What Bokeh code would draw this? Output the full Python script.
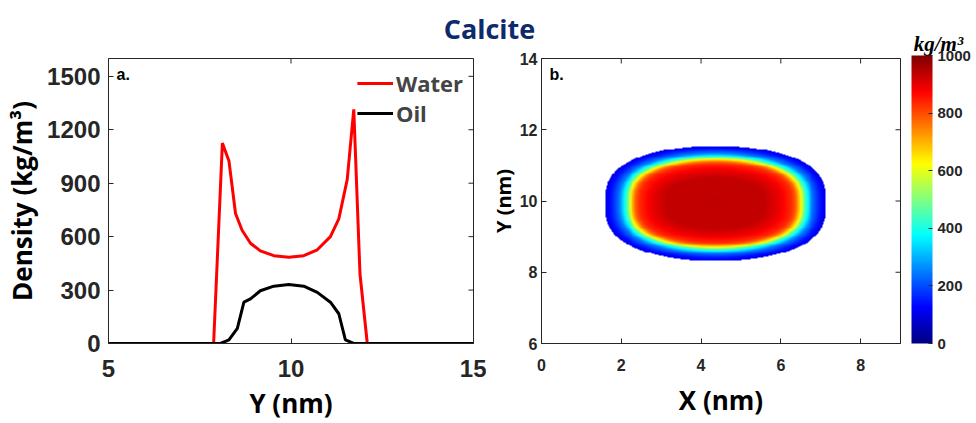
import numpy as np
from bokeh.plotting import figure
from bokeh.models import Range1d, FixedTicker, Label, ColorBar, LinearColorMapper
from bokeh.layouts import column, row
from bokeh.embed import file_html
from bokeh.resources import INLINE

# ---------------- data ----------------
title_text = "Calcite"

# (a) density profiles along Y
water_y = [5.0, 7.88, 8.12, 8.30, 8.48, 8.66, 8.89, 9.16, 9.53, 9.94, 10.35,
           10.72, 11.08, 11.31, 11.54, 11.72, 11.89, 12.09, 15.0]
water_rho = [0, 0, 1125, 1025, 730, 636, 563, 520, 493, 484, 493,
             526, 600, 700, 920, 1315, 390, 0, 0]
oil_y = [5.0, 8.07, 8.30, 8.53, 8.71, 8.89, 9.16, 9.53, 9.94, 10.35, 10.72,
         11.08, 11.31, 11.49, 11.72, 15.0]
oil_rho = [0, 0, 20, 85, 232, 250, 296, 322, 331, 322, 287,
           232, 167, 20, 0, 0]
a_xticks = [5, 10, 15]
a_yticks = [0, 300, 600, 900, 1200, 1500]

# (b) droplet density map: outline
drop_x_left, drop_x_right = 1.58, 7.15
drop_y_bottom, drop_y_top = 8.32, 11.55
# relative radius (0 = centre, 1 = outer edge) -> density (kg/m3)
level_pos = [0.00, 0.45, 0.58, 0.68, 0.72, 0.76, 0.81, 0.87, 0.94, 1.00]
level_rho = [935, 930, 890, 835, 780, 650, 430, 250, 150, 100]
b_xticks = [0, 2, 4, 6, 8]
b_yticks = [6, 8, 10, 12, 14]
cb_ticks = [0, 200, 400, 600, 800, 1000]

# ---------------- styles ----------------
TICK_FONT = "Liberation Sans"
LAB_FONT = "Open Sans"
DARK = "#262626"

# jet palette
anchors = [(0.0, (0, 0, 0.5)), (0.125, (0, 0, 1)), (0.375, (0, 1, 1)),
           (0.625, (1, 1, 0)), (0.875, (1, 0, 0)), (1.0, (0.5, 0, 0))]
pos = [a[0] for a in anchors]
jet = []
for t in np.linspace(0, 1, 256):
    r = np.interp(t, pos, [a[1][0] for a in anchors])
    g = np.interp(t, pos, [a[1][1] for a in anchors])
    b = np.interp(t, pos, [a[1][2] for a in anchors])
    jet.append("#%02x%02x%02x" % (int(round(r * 255)), int(round(g * 255)), int(round(b * 255))))


def style_axes(p, size, xticks, yticks, xr, yr):
    for ax in p.xaxis + p.yaxis:
        ax.major_tick_in = 5
        ax.major_tick_out = 0
        ax.minor_tick_line_color = None
        ax.major_label_text_font = TICK_FONT
        ax.major_label_text_font_style = "bold"
        ax.major_label_text_font_size = size
        ax.major_label_text_color = DARK
        ax.axis_line_color = DARK
        ax.major_tick_line_color = DARK
        ax.axis_label_text_font = LAB_FONT
        ax.axis_label_text_font_style = "bold"
        ax.axis_label_text_color = "black"
    p.xaxis.ticker = FixedTicker(ticks=xticks)
    p.yaxis.ticker = FixedTicker(ticks=yticks)
    # inward ticks on the top and right sides of the box
    p.scatter(x=xticks, y=[yr[1]] * len(xticks), marker="dash", size=10, angle=np.pi / 2,
              line_color=DARK, line_width=1)
    p.scatter(x=[xr[1]] * len(yticks), y=yticks, marker="dash", size=10,
              line_color=DARK, line_width=1)
    p.grid.visible = False
    p.outline_line_color = DARK
    p.border_fill_color = None


# ---------------- title strip ----------------
tp = figure(width=976, height=56, x_range=Range1d(0, 976), y_range=Range1d(0, 56),
            toolbar_location=None, output_backend="svg", min_border=0,
            x_axis_location=None, y_axis_location=None)
tp.grid.visible = False
tp.outline_line_color = None
tp.border_fill_color = None
tp.background_fill_color = None
tp.add_layout(Label(x=489, y=10, text=title_text, text_align="center", text_baseline="bottom",
                    text_font=LAB_FONT, text_font_size="27px", text_font_style="bold",
                    text_color="#0d2a6b"))
tp.add_layout(Label(x=938, y=1, text="kg/m³", text_align="center", text_baseline="bottom",
                    text_font="Liberation Serif", text_font_size="21px",
                    text_font_style="bold italic", text_color="black"))

FIG_H = 375
# ---------------- (a) ----------------
xr1, yr1 = (5, 15), (0, 1600)
p1 = figure(width=486, height=FIG_H, x_range=Range1d(*xr1), y_range=Range1d(*yr1),
            toolbar_location=None, output_backend="svg",
            min_border_left=108, min_border_right=13, min_border_top=10, min_border_bottom=77)
p1.line(water_y, water_rho, color="#ff0000", line_width=3, legend_label="Water")
p1.line(oil_y, oil_rho, color="black", line_width=3, legend_label="Oil")
style_axes(p1, "24px", a_xticks, a_yticks, xr1, yr1)
p1.xaxis.axis_label = "Y (nm)"
p1.yaxis.axis_label = "Density (kg/m³)"
p1.axis.axis_label_text_font_size = "26px"
p1.xaxis.major_label_standoff = 16
p1.xaxis.axis_label_standoff = 5
p1.yaxis.major_label_standoff = 8
p1.yaxis.axis_label_standoff = 4
p1.legend.location = "top_right"
p1.legend.border_line_color = None
p1.legend.background_fill_alpha = 0
p1.legend.glyph_width = 36
p1.legend.glyph_height = 20
p1.legend.label_height = 20
p1.legend.spacing = 0
p1.legend.padding = 6
p1.legend.margin = 10
p1.legend.label_standoff = 3
p1.legend.label_text_font = LAB_FONT
p1.legend.label_text_font_style = "bold"
p1.legend.label_text_font_size = "22px"
p1.add_layout(Label(x=xr1[0], y=yr1[1], x_offset=8, y_offset=-7, text="a.", text_baseline="top",
                    text_font=TICK_FONT, text_font_style="bold", text_font_size="16px",
                    text_color="black"))

# ---------------- (b) ----------------
gx = np.linspace(0, 9, 361)
gy = np.linspace(6, 14, 321)
X, Y = np.meshgrid(gx, gy)
xc = (drop_x_left + drop_x_right) / 2
yc = (drop_y_bottom + drop_y_top) / 2
U = np.abs((X - xc) / ((drop_x_right - drop_x_left) / 2))
V = np.abs((Y - yc) / ((drop_y_top - drop_y_bottom) / 2))
# relative radius of the (scaled) outline through each grid point
lo = np.zeros_like(U)
hi = np.full_like(U, 4.0)
for _ in range(40):
    mid = (lo + hi) / 2
    inside = (U / mid) ** 2 + (V / mid) ** 3 > 1.0
    lo = np.where(inside, mid, lo)
    hi = np.where(inside, hi, mid)
R = (lo + hi) / 2
dens = np.interp(R, level_pos, level_rho)
dens[R > 1.0] = np.nan

mapper = LinearColorMapper(palette=jet, low=0, high=1000, nan_color=(0, 0, 0, 0))
xr2, yr2 = (0, 9), (6, 14)
p2 = figure(width=490, height=FIG_H, x_range=Range1d(*xr2), y_range=Range1d(*yr2),
            toolbar_location=None, output_backend="svg",
            min_border_left=50, min_border_right=76, min_border_top=10, min_border_bottom=77)
p2.image(image=[dens], x=gx[0], y=gy[0], dw=gx[-1] - gx[0], dh=gy[-1] - gy[0],
         color_mapper=mapper)
style_axes(p2, "16px", b_xticks, b_yticks, xr2, yr2)
p2.xaxis.axis_label = "X (nm)"
p2.yaxis.axis_label = "Y (nm)"
p2.xaxis.axis_label_text_font_size = "26px"
p2.yaxis.axis_label_text_font_size = "20px"
p2.xaxis.major_label_standoff = 15
p2.xaxis.axis_label_standoff = 8
p2.yaxis.major_label_standoff = 4
p2.yaxis.axis_label_standoff = 0
p2.add_layout(Label(x=xr2[0], y=yr2[1], x_offset=8, y_offset=-7, text="b.", text_baseline="top",
                    text_font=TICK_FONT, text_font_style="bold", text_font_size="16px",
                    text_color="black"))
cb = ColorBar(color_mapper=mapper, ticker=FixedTicker(ticks=cb_ticks), width=21,
              height=FIG_H - 10 - 77, location=(11, 0),
              padding=0, margin=0, label_standoff=5, major_tick_in=4, major_tick_out=0,
              major_tick_line_color=DARK, bar_line_color=None, border_line_color=None,
              major_label_text_font=TICK_FONT, major_label_text_font_style="bold",
              major_label_text_font_size="15px", major_label_text_color=DARK,
              minor_tick_line_color=None, background_fill_alpha=0)
p2.add_layout(cb, "right")

layout = column(tp, row(p1, p2, margin=(-8, 0, 0, 0)))
open("out.html", "w").write(file_html(layout, INLINE))
